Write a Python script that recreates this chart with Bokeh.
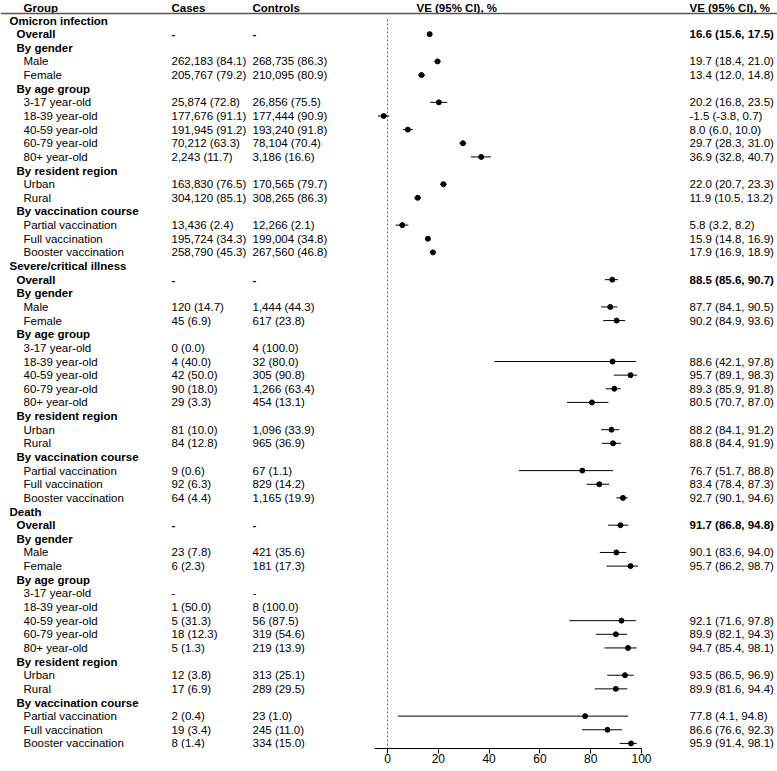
from bokeh.plotting import figure
from bokeh.models import Range1d, Span, FixedTicker, ColumnDataSource
from bokeh.core.properties import value
from bokeh.embed import file_html
from bokeh.resources import INLINE

# ---------------- data ----------------
labels = [
    "Omicron infection", "Overall", "By gender", "Male", "Female", "By age group",
    "3-17 year-old", "18-39 year-old", "40-59 year-old", "60-79 year-old", "80+ year-old",
    "By resident region", "Urban", "Rural", "By vaccination course",
    "Partial vaccination", "Full vaccination", "Booster vaccination",
    "Severe/critical illness", "Overall", "By gender", "Male", "Female", "By age group",
    "3-17 year-old", "18-39 year-old", "40-59 year-old", "60-79 year-old", "80+ year-old",
    "By resident region", "Urban", "Rural", "By vaccination course",
    "Partial vaccination", "Full vaccination", "Booster vaccination",
    "Death", "Overall", "By gender", "Male", "Female", "By age group",
    "3-17 year-old", "18-39 year-old", "40-59 year-old", "60-79 year-old", "80+ year-old",
    "By resident region", "Urban", "Rural", "By vaccination course",
    "Partial vaccination", "Full vaccination", "Booster vaccination",
]
levels = [
    0, 1, 1, 2, 2, 1, 2, 2, 2, 2, 2, 1, 2, 2, 1, 2, 2, 2,
    0, 1, 1, 2, 2, 1, 2, 2, 2, 2, 2, 1, 2, 2, 1, 2, 2, 2,
    0, 1, 1, 2, 2, 1, 2, 2, 2, 2, 2, 1, 2, 2, 1, 2, 2, 2,
]
cases = [
    "", "-", "", "262,183 (84.1)", "205,767 (79.2)", "",
    "25,874 (72.8)", "177,676 (91.1)", "191,945 (91.2)", "70,212 (63.3)", "2,243 (11.7)",
    "", "163,830 (76.5)", "304,120 (85.1)", "",
    "13,436 (2.4)", "195,724 (34.3)", "258,790 (45.3)",
    "", "-", "", "120 (14.7)", "45 (6.9)", "",
    "0 (0.0)", "4 (40.0)", "42 (50.0)", "90 (18.0)", "29 (3.3)",
    "", "81 (10.0)", "84 (12.8)", "",
    "9 (0.6)", "92 (6.3)", "64 (4.4)",
    "", "-", "", "23 (7.8)", "6 (2.3)", "",
    "-", "1 (50.0)", "5 (31.3)", "18 (12.3)", "5 (1.3)",
    "", "12 (3.8)", "17 (6.9)", "",
    "2 (0.4)", "19 (3.4)", "8 (1.4)",
]
controls = [
    "", "-", "", "268,735 (86.3)", "210,095 (80.9)", "",
    "26,856 (75.5)", "177,444 (90.9)", "193,240 (91.8)", "78,104 (70.4)", "3,186 (16.6)",
    "", "170,565 (79.7)", "308,265 (86.3)", "",
    "12,266 (2.1)", "199,004 (34.8)", "267,560 (46.8)",
    "", "-", "", "1,444 (44.3)", "617 (23.8)", "",
    "4 (100.0)", "32 (80.0)", "305 (90.8)", "1,266 (63.4)", "454 (13.1)",
    "", "1,096 (33.9)", "965 (36.9)", "",
    "67 (1.1)", "829 (14.2)", "1,165 (19.9)",
    "", "-", "", "421 (35.6)", "181 (17.3)", "",
    "-", "8 (100.0)", "56 (87.5)", "319 (54.6)", "219 (13.9)",
    "", "313 (25.1)", "289 (29.5)", "",
    "23 (1.0)", "245 (11.0)", "334 (15.0)",
]
N = None
ve = [
    N, 16.6, N, 19.7, 13.4, N, 20.2, -1.5, 8.0, 29.7, 36.9, N, 22.0, 11.9, N, 5.8, 15.9, 17.9,
    N, 88.5, N, 87.7, 90.2, N, N, 88.6, 95.7, 89.3, 80.5, N, 88.2, 88.8, N, 76.7, 83.4, 92.7,
    N, 91.7, N, 90.1, 95.7, N, N, N, 92.1, 89.9, 94.7, N, 93.5, 89.9, N, 77.8, 86.6, 95.9,
]
ve_lo = [
    N, 15.6, N, 18.4, 12.0, N, 16.8, -3.8, 6.0, 28.3, 32.8, N, 20.7, 10.5, N, 3.2, 14.8, 16.9,
    N, 85.6, N, 84.1, 84.9, N, N, 42.1, 89.1, 85.9, 70.7, N, 84.1, 84.4, N, 51.7, 78.4, 90.1,
    N, 86.8, N, 83.6, 86.2, N, N, N, 71.6, 82.1, 85.4, N, 86.5, 81.6, N, 4.1, 76.6, 91.4,
]
ve_hi = [
    N, 17.5, N, 21.0, 14.8, N, 23.5, 0.7, 10.0, 31.0, 40.7, N, 23.3, 13.2, N, 8.2, 16.9, 18.9,
    N, 90.7, N, 90.5, 93.6, N, N, 97.8, 98.3, 91.8, 87.0, N, 91.2, 91.9, N, 88.8, 87.3, 94.6,
    N, 94.8, N, 94.0, 98.7, N, N, N, 97.8, 94.3, 98.1, N, 96.9, 94.4, N, 94.8, 92.3, 98.1,
]
headers = ["Group", "Cases", "Controls", "VE (95% CI), %", "VE (95% CI), %"]
x_ticks = [0, 20, 40, 60, 80, 100]

# ---------------- layout helpers ----------------
FW, FH = 777, 748
X0_PX, X_SCALE = 387.0, 2.54           # frame px of VE=0, px per VE unit
ROW0_PX, ROW_H = 20.0, 13.64            # frame px of first row, row height


def xd(px):
    return (px - X0_PX) / X_SCALE


def yd(px):
    return (px - ROW0_PX) / ROW_H


FONT = value("Liberation Sans")
FS = "11.5px"

p = figure(
    frame_width=FW, frame_height=FH,
    x_range=Range1d(xd(0), xd(FW)),
    y_range=Range1d(yd(FH), yd(0)),
    output_backend="svg", toolbar_location=None,
    y_axis_location=None, min_border=0,
    min_border_left=0, min_border_right=0, min_border_top=0, min_border_bottom=0,
)
p.grid.visible = False
p.outline_line_color = None
p.background_fill_color = "white"
p.border_fill_color = "white"

rows = list(range(len(labels)))
indent_px = {0: 9, 1: 16, 2: 23}

# group labels
src_lab = ColumnDataSource(dict(
    x=[xd(indent_px[l]) for l in levels], y=rows, text=labels,
    style=["bold" if l < 2 else "normal" for l in levels],
))
p.text(x="x", y="y", text="text", source=src_lab, text_font=FONT, text_font_size=FS,
       text_font_style="style", text_baseline="middle", text_align="left", text_color="black")


def style_for(s, l):
    return "bold" if (s == "-" and l == 1) else "normal"


src_cases = ColumnDataSource(dict(
    x=[xd(171)] * len(rows), y=rows, text=cases,
    style=[style_for(s, l) for s, l in zip(cases, levels)],
))
p.text(x="x", y="y", text="text", source=src_cases, text_font=FONT, text_font_size=FS,
       text_font_style="style", text_baseline="middle", text_align="left", text_color="black")
src_ctrl = ColumnDataSource(dict(
    x=[xd(252)] * len(rows), y=rows, text=controls,
    style=[style_for(s, l) for s, l in zip(controls, levels)],
))
p.text(x="x", y="y", text="text", source=src_ctrl, text_font=FONT, text_font_size=FS,
       text_font_style="style", text_baseline="middle", text_align="left", text_color="black")

# VE text column
ve_rows = [i for i in rows if ve[i] is not None]
ve_text = [f"{ve[i]:.1f} ({ve_lo[i]:.1f}, {ve_hi[i]:.1f})" for i in ve_rows]
src_vet = ColumnDataSource(dict(
    x=[xd(689)] * len(ve_rows), y=ve_rows, text=ve_text,
    style=["bold" if labels[i] == "Overall" else "normal" for i in ve_rows],
))
p.text(x="x", y="y", text="text", source=src_vet, text_font=FONT, text_font_size=FS,
       text_font_style="style", text_baseline="middle", text_align="left", text_color="black")

# headers
src_h = ColumnDataSource(dict(
    x=[xd(23), xd(171), xd(252), xd(416), xd(689)],
    y=[yd(7.5)] * 5, text=headers,
))
p.text(x="x", y="y", text="text", source=src_h, text_font=FONT, text_font_size=FS,
       text_font_style="bold", text_baseline="middle", text_align="left", text_color="black")

# header rule
p.add_layout(Span(location=yd(13), dimension="width", line_color="#555555", line_width=1.6))

# reference line at 0
p.segment(x0=[0], y0=[yd(ROW0_PX - 1)], x1=[0], y1=[yd(FH)], line_color="#666666",
          line_width=1, line_dash="2 2")

# CIs and points
src_pts = ColumnDataSource(dict(
    y=ve_rows, ve=[ve[i] for i in ve_rows],
    lo=[ve_lo[i] for i in ve_rows], hi=[ve_hi[i] for i in ve_rows],
))
p.segment(x0="lo", y0="y", x1="hi", y1="y", source=src_pts, line_color="black", line_width=1)
p.scatter(x="ve", y="y", source=src_pts, size=5, fill_color="black", line_color="black")

# x axis
ax = p.xaxis[0]
ax.ticker = FixedTicker(ticks=x_ticks)
ax.bounds = (-5, 100)
ax.major_tick_in = 0
ax.major_tick_out = 5
ax.minor_tick_line_color = None
ax.axis_line_color = "black"
ax.major_tick_line_color = "black"
ax.axis_line_width = 1
ax.major_label_text_font = "Liberation Sans"
ax.major_label_text_font_size = "12px"
ax.major_label_text_color = "black"
ax.major_label_standoff = 0

open("out.html", "w").write(file_html(p, INLINE))
